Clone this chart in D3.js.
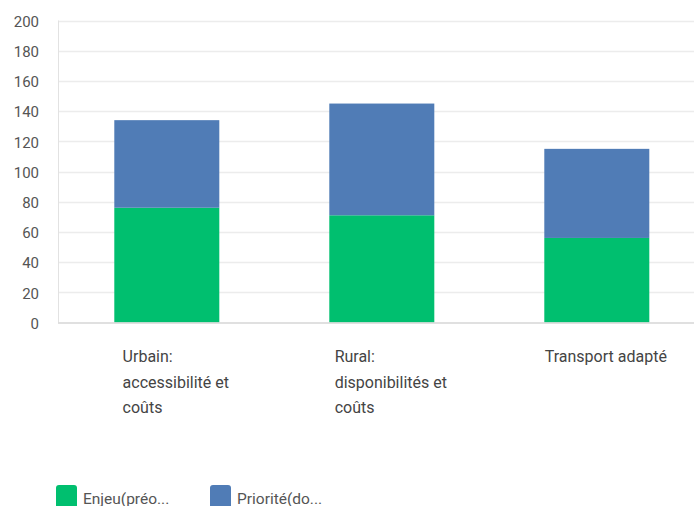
<!DOCTYPE html>
<html>
<head>
<meta charset="utf-8">
<script src="https://cdn.jsdelivr.net/npm/d3@7"></script>
<style>
  body { margin: 0; background: #fff; }
  svg { display: block; font-family: Roboto, "DejaVu Sans", sans-serif; }
  .tick-label { fill: #555; font-size: 15px; }
  .cat-label { fill: #444; font-size: 16px; }
  .legend-text { fill: #555; font-size: 15.5px; }
</style>
</head>
<body>
<div id="chart"></div>
<script>
// data
var categories = ["Urbain", "Rural", "Transport"]
var categoryLines = [
    ["Urbain:", "accessibilité et", "coûts"],
    ["Rural:", "disponibilités et", "coûts"],
    ["Transport adapté"]
]
var seriesNames = ["Enjeu(préo...", "Priorité(do..."]
var enjeuValues = [76, 71, 56]
var prioriteValues = [58, 74, 59]
var yTicks = [0, 20, 40, 60, 80, 100, 120, 140, 160, 180, 200]
var colors = ["#00BF6F", "#507CB6"]

var width = 694
var height = 506
var plotLeft = 58, plotRight = 694, plotTop = 20.5, plotBottom = 322.5

var svg = d3.select("#chart")
    .append("svg")
        .attr("width", width)
        .attr("height", height)

var x = d3.scaleBand()
    .domain(categories)
    .range([59.3, 704.3])
    .paddingInner(0.5116)
    .paddingOuter(0.2558)

var y = d3.scaleLinear()
    .domain([0, 200])
    .range([plotBottom, plotTop])

// grid lines
svg.append("g")
    .selectAll("line")
    .data(yTicks.filter(d => d > 0))
    .enter()
    .append("line")
        .attr("x1", plotLeft)
        .attr("x2", plotRight)
        .attr("y1", d => Math.round(y(d)) + 0.5)
        .attr("y2", d => Math.round(y(d)) + 0.5)
        .attr("stroke", "#ececec")
        .attr("stroke-width", 1.5)

// left border
svg.append("line")
    .attr("x1", plotLeft + 0.5)
    .attr("x2", plotLeft + 0.5)
    .attr("y1", plotTop)
    .attr("y2", plotBottom)
    .attr("stroke", "#e2e2e2")

// y axis
var y_axis = d3.axisLeft(y).tickValues(yTicks).tickSize(0).tickPadding(0)
var yAxisCall = svg.append("g")
    .attr("transform", "translate(39,1)")
    .call(y_axis)
yAxisCall.select(".domain").remove()
yAxisCall.selectAll("text")
    .attr("class", "tick-label")
    .attr("fill", null)
yAxisCall.attr("font-family", null).attr("font-size", null)

// stacked bars
var table = categories.map((c, i) => ({cat: c, enjeu: enjeuValues[i], priorite: prioriteValues[i]}))
var stack = d3.stack().keys(["enjeu", "priorite"])(table)

svg.append("g")
    .selectAll("g")
    .data(stack)
    .enter()
    .append("g")
        .attr("fill", (d, i) => colors[i])
    .selectAll("rect")
    .data(d => d)
    .enter()
    .append("rect")
        .attr("x", d => x(d.data.cat))
        .attr("y", d => y(d[1]))
        .attr("width", x.bandwidth())
        .attr("height", d => y(d[0]) - y(d[1]))

// baseline
svg.append("line")
    .attr("x1", plotLeft)
    .attr("x2", plotRight)
    .attr("y1", plotBottom + 0.5)
    .attr("y2", plotBottom + 0.5)
    .attr("stroke", "#d6d6d6")
    .attr("stroke-width", 1.5)

// category labels
categories.forEach(function(c, i){
    var g = svg.append("g")
    var texts = g.selectAll("text")
        .data(categoryLines[i])
        .enter()
        .append("text")
            .attr("class", "cat-label")
            .attr("y", (d, j) => 362 + j * 25.5)
            .text(d => d)
    var maxW = d3.max(texts.nodes(), n => n.getComputedTextLength())
    var left = x(c) + x.bandwidth() / 2 + 9 - maxW / 2
    texts.attr("x", left)
})

// legend
var legend = svg.append("g")
    .attr("transform", "translate(56,485)")
seriesNames.forEach(function(name, i){
    var leg = legend.append("g")
        .attr("transform", "translate(" + (i * 154) + ",0)")
    leg.append("rect")
        .attr("x", 0)
        .attr("y", 0)
        .attr("width", 21)
        .attr("height", 24)
        .attr("rx", 3)
        .attr("fill", colors[i])
    leg.append("text")
        .attr("x", 27)
        .attr("y", 19)
        .attr("class", "legend-text")
        .text(name)
})
</script>
</body>
</html>
